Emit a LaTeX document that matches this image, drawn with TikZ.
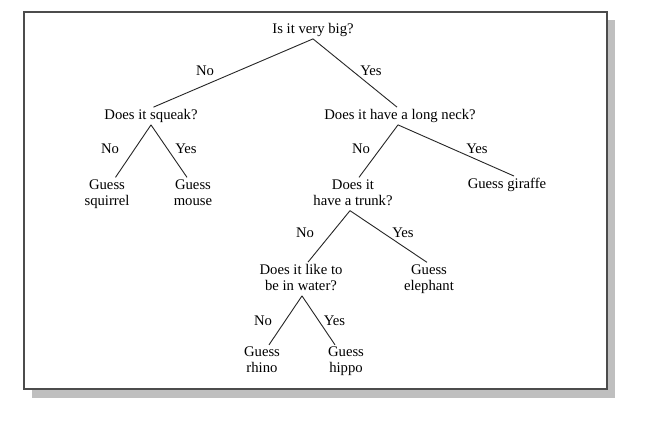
\documentclass[tikz,border=0pt]{standalone}
\usepackage{fontspec}
\setmainfont{Liberation Serif}
\begin{document}
\begin{tikzpicture}[x=1pt,y=-1pt,
  q/.style={inner sep=2pt,align=center,font=\fontsize{14.7}{16}\selectfont,
    execute at end node={\vphantom{gy}}},
  lab/.style={inner sep=0pt,font=\fontsize{14.7}{16}\selectfont},
  edge/.style={draw=black!85,line width=0.9pt}]
\useasboundingbox (0,0) rectangle (645,426);
% shadow and frame
\fill[black!25] (32,20) rectangle (615,398);
\draw[fill=white,draw=black!70,line width=1.3pt] (24,12) rectangle (607,389);
% nodes
\node[q] (root) at (313,30) {Is it very big?};
\node[q] (squeak) at (151,116) {Does it squeak?};
\node[q] (neck) at (400,116) {Does it have a long neck?};
\node[q] (squirrel) at (107,194) {Guess\\squirrel};
\node[q] (mouse) at (193,194) {Guess\\mouse};
\node[q] (trunk) at (353,194) {Does it\\have a trunk?};
\node[q] (giraffe) at (507,185) {Guess giraffe};
\node[q] (water) at (301,279) {Does it like to\\be in water?};
\node[q] (elephant) at (429,279) {Guess\\elephant};
\node[q] (rhino) at (262,361.5) {Guess\\rhino};
\node[q] (hippo) at (346,361.5) {Guess\\hippo};
% labels
\node[lab] (l1) at (205,71) {No};
\node[lab] (l2) at (371,71) {Yes};
\node[lab] (l3) at (110,148.5) {No};
\node[lab] (l4) at (186,148.5) {Yes};
\node[lab] (l5) at (361,148.5) {No};
\node[lab] (l6) at (477,148.5) {Yes};
\node[lab] (l7) at (305,232.7) {No};
\node[lab] (l8) at (403,232.7) {Yes};
\node[lab] (l9) at (263,320.7) {No};
\node[lab] (l10) at (334.5,320.7) {Yes};
% connectors
\draw[edge] (root.south) -- ([xshift=2.5pt]squeak.north);
\draw[edge] (root.south) -- ([xshift=-3pt]neck.north);
\draw[edge] (squeak.south) -- ([xshift=8.5pt]squirrel.north);
\draw[edge] (squeak.south) -- ([xshift=-6pt]mouse.north);
\draw[edge] ([xshift=-2pt]neck.south) -- ([xshift=6pt]trunk.north);
\draw[edge] ([xshift=-2pt]neck.south) -- ([xshift=7pt]giraffe.north);
\draw[edge] ([xshift=-3pt]trunk.south) -- ([xshift=7pt]water.north);
\draw[edge] ([xshift=-3pt]trunk.south) -- ([xshift=-2pt]elephant.north);
\draw[edge] ([xshift=1pt]water.south) -- ([xshift=7pt]rhino.north);
\draw[edge] ([xshift=1pt]water.south) -- ([xshift=-11pt]hippo.north);
\end{tikzpicture}
\end{document}
